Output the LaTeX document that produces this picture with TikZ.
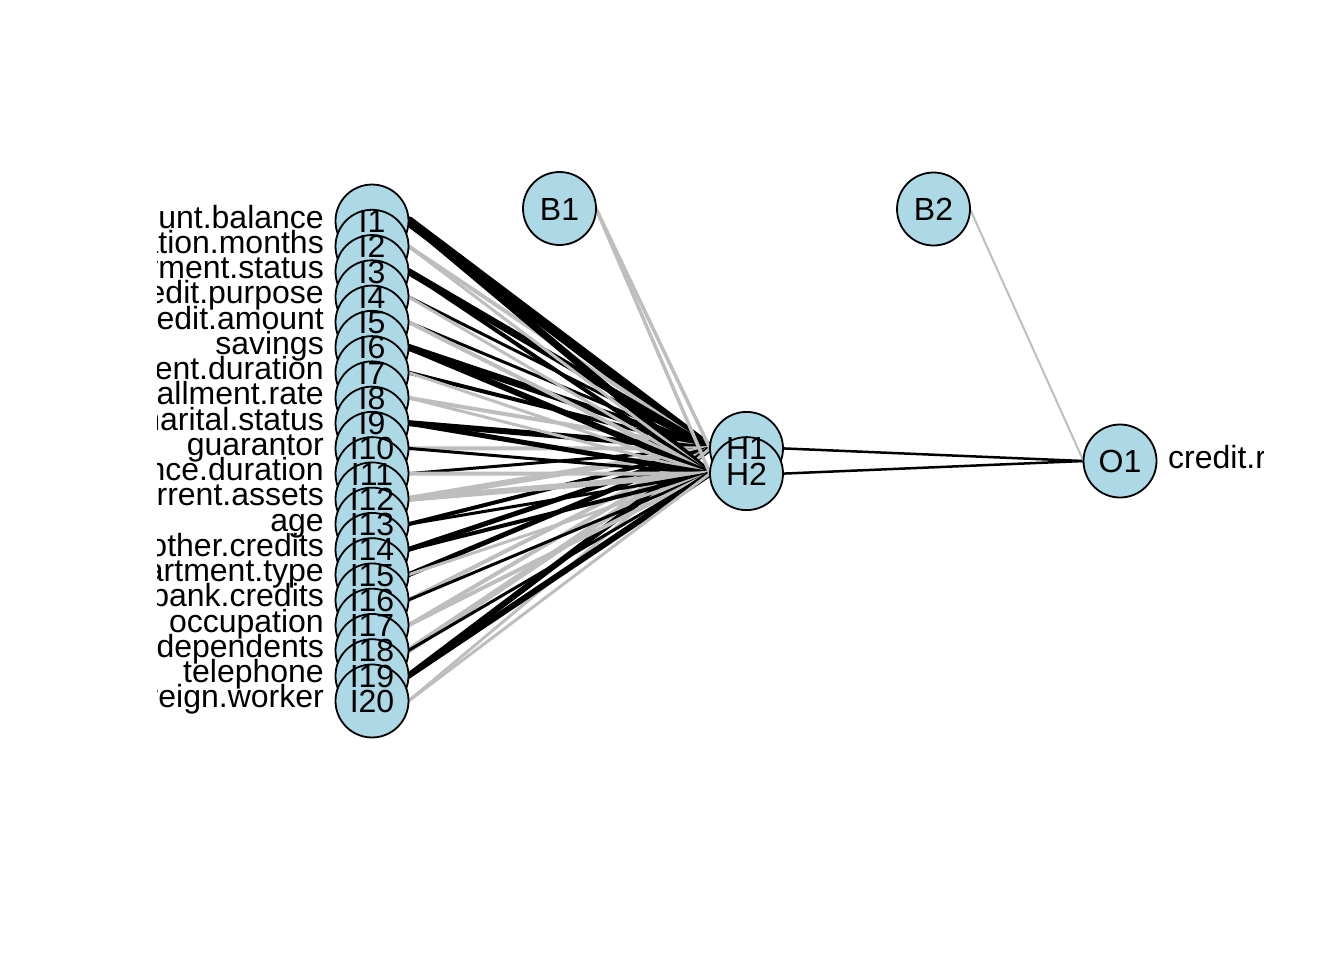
\documentclass[tikz,border=0pt]{standalone}
\usepackage{fontspec}
\setmainfont{Liberation Sans}
\definecolor{rgrey}{RGB}{190,190,190}
\definecolor{nodeblue}{RGB}{173,216,230}
\begin{document}
\begin{tikzpicture}[x=1bp,y=-1bp,
  neuron/.style={circle,draw=black,fill=nodeblue,line width=1.8bp,minimum size=73bp,inner sep=0pt},
  bigtext/.style={inner sep=0pt,font=\fontsize{32bp}{38bp}\selectfont},
  nlab/.style={bigtext,anchor=base,yshift=-11.5bp},
  vlab/.style={bigtext,anchor=base east},
  olab/.style={bigtext,anchor=base west},
  wire/.style={line cap=round}]
\useasboundingbox (0,0) rectangle (1344,960);
\fill[white] (0,0) rectangle (1344,960);
% node centres
\foreach \i in {1,...,20}{\coordinate (I\i) at (372,{461+(\i-10.5)*25.26});}
\coordinate (H1) at (746.5,448.4);
\coordinate (H2) at (746.5,473.6);
\coordinate (B1) at (559.5,208.5);
\coordinate (B2) at (933.5,209);
\coordinate (O1) at (1120,461);
% connector ends: right side (out) and left side (in) of each circle
\foreach \i in {1,...,20}{\coordinate (I\i out) at ([xshift=36.5bp]I\i);}
\coordinate (H1 in) at ([xshift=-36.5bp]H1);
\coordinate (H2 in) at ([xshift=-36.5bp]H2);
\coordinate (H1 out) at ([xshift=36.5bp]H1);
\coordinate (H2 out) at ([xshift=36.5bp]H2);
\coordinate (B1 out) at ([xshift=36.5bp]B1);
\coordinate (B2 out) at ([xshift=36.5bp]B2);
\coordinate (O1 in) at ([xshift=-36.5bp]O1);
% connectors input -> H1
\foreach \i/\c/\w in {1/black/10,2/rgrey/4,3/black/7,4/black/3,5/black/3,6/black/7,7/black/4,8/rgrey/4,9/black/6,10/rgrey/4,
  11/black/3,12/rgrey/6,13/black/4,14/black/5,15/black/5,16/rgrey/4,17/rgrey/4,18/rgrey/6,19/black/6,20/rgrey/3}
  {\draw[wire,draw=\c,line width=\w bp] (I\i out) -- (H1 in);}
% connectors input -> H2
\foreach \i/\c/\w in {1/black/7,2/rgrey/3,3/black/4,4/rgrey/3,5/rgrey/4,6/black/6,7/rgrey/3,8/rgrey/3,9/black/5,10/black/3,
  11/rgrey/4,12/rgrey/6,13/black/3,14/black/4,15/rgrey/3,16/black/3,17/rgrey/4,18/black/3,19/black/6,20/rgrey/3}
  {\draw[wire,draw=\c,line width=\w bp] (I\i out) -- (H2 in);}
\draw[wire,draw=rgrey,line width=3.5bp] (B1 out) -- (H1 in);
\draw[wire,draw=rgrey,line width=3.5bp] (B1 out) -- (H2 in);
\draw[wire,draw=black,line width=2.5bp] (H1 out) -- (O1 in);
\draw[wire,draw=black,line width=2.5bp] (H2 out) -- (O1 in);
\draw[wire,draw=rgrey,line width=2bp] (B2 out) -- (O1 in);
% circles
\foreach \i in {1,...,20}{\node[neuron] (nI\i) at (I\i) {};}
\node[neuron] (nH1) at (H1) {};
\node[neuron] (nH2) at (H2) {};
\node[neuron] (nB1) at (B1) {};
\node[neuron] (nB2) at (B2) {};
\node[neuron] (nO1) at (O1) {};
% node texts
\foreach \i in {1,...,20}{\node[nlab] (tI\i) at (I\i) {I\i};}
\node[nlab] (tH1) at (H1) {H1};
\node[nlab] (tH2) at (H2) {H2};
\node[nlab] (tB1) at (B1) {B1};
\node[nlab] (tB2) at (B2) {B2};
\node[nlab] (tO1) at (O1) {O1};
% variable labels, clipped to the plot region
\begin{scope}
\clip (157.4,157.4) rectangle (1263.4,764.2);
\foreach \i/\t in {1/account.balance,2/credit.duration.months,3/previous.credit.payment.status,4/credit.purpose,
  5/credit.amount,6/savings,7/employment.duration,8/installment.rate,9/marital.status,10/guarantor,
  11/residence.duration,12/current.assets,13/age,14/other.credits,15/apartment.type,16/bank.credits,
  17/occupation,18/dependents,19/telephone,20/foreign.worker}
  {\node[vlab] (L\i) at (324,{461+(\i-10.5)*25.26+7}) {\t};}
\node[olab] (LO1) at (1168,468) {credit.rating};
\end{scope}
\end{tikzpicture}
\end{document}
